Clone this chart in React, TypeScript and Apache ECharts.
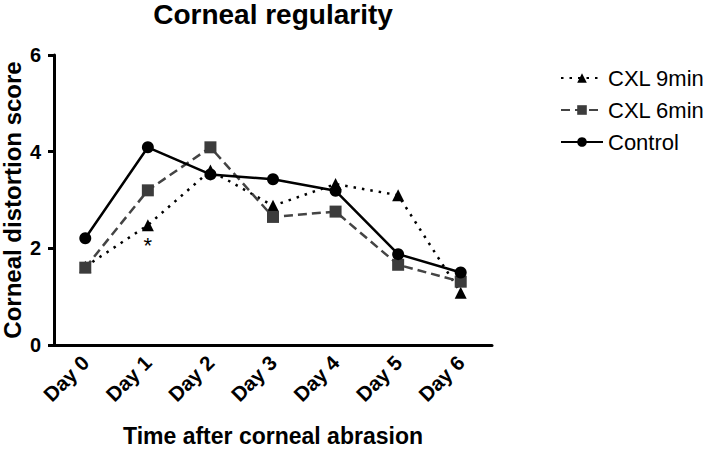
import React, { useEffect, useRef } from "react";
import * as echarts from "echarts";

const days = ["Day 0", "Day 1", "Day 2", "Day 3", "Day 4", "Day 5", "Day 6"];
const yTicks = [0, 2, 4, 6];
const cxl9 = [1.62, 2.48, 3.61, 2.88, 3.33, 3.1, 1.08];
const cxl6 = [1.6, 3.2, 4.09, 2.65, 2.76, 1.66, 1.31];
const control = [2.21, 4.09, 3.53, 3.43, 3.19, 1.88, 1.5];
const significance = [{ day: "Day 1", value: 2.06, mark: "*" }];

const FONT = "Liberation Sans, Arial, Helvetica, sans-serif";

export default function App() {
  const ref = useRef<HTMLDivElement>(null);
  useEffect(() => {
    if (!ref.current) return;
    const chart = echarts.init(ref.current, null, { renderer: "svg" });
    chart.setOption({
      animation: false,
      backgroundColor: "#ffffff",
      title: {
        text: "Corneal regularity",
        left: 273,
        textAlign: "center",
        top: 0,
        padding: 0,
        textStyle: { fontFamily: FONT, fontWeight: "bold", fontSize: 28, lineHeight: 28, color: "#000" },
      },
      legend: {
        orient: "vertical",
        left: 555,
        top: 62,
        itemGap: 10,
        itemWidth: 42,
        itemHeight: 12,
        textStyle: { fontFamily: FONT, fontSize: 22, color: "#000" },
        data: ["CXL 9min", "CXL 6min", "Control"],
      },
      grid: { left: 54, top: 55, width: 438, height: 290, outerBoundsMode: "none", containLabel: false },
      xAxis: {
        type: "category",
        data: days,
        boundaryGap: true,
        name: "Time after corneal abrasion",
        nameLocation: "middle",
        nameGap: 79,
        nameMoveOverlap: false,
        nameTextStyle: { fontFamily: FONT, fontWeight: "bold", fontSize: 23, lineHeight: 23, color: "#000" },
        axisLine: { lineStyle: { color: "#000", width: 3 } },
        axisTick: { alignWithLabel: true, length: 6, lineStyle: { width: 3, color: "#000" } },
        axisLabel: {
          rotate: 45,
          fontFamily: FONT,
          fontWeight: "bold",
          fontSize: 20.5,
          color: "#000",
          margin: 14,
        },
        splitLine: { show: false },
      },
      yAxis: {
        type: "value",
        min: yTicks[0],
        max: yTicks[yTicks.length - 1],
        interval: 2,
        name: "Corneal distortion score",
        nameLocation: "middle",
        nameGap: 32,
        nameMoveOverlap: false,
        nameTextStyle: { fontFamily: FONT, fontWeight: "bold", fontSize: 24, lineHeight: 20, color: "#000" },
        axisLine: { show: true, lineStyle: { color: "#000", width: 3 } },
        axisTick: { show: true, length: 6, lineStyle: { width: 3, color: "#000" } },
        axisLabel: { fontFamily: FONT, fontWeight: "bold", fontSize: 20, color: "#000", margin: 13 },
        splitLine: { show: false },
      },
      series: [
        {
          name: "CXL 9min",
          type: "line",
          data: cxl9,
          symbol: "triangle",
          symbolSize: 12,
          itemStyle: { color: "#000" },
          lineStyle: { color: "#000", width: 2.5, type: [2.5, 6] },
          z: 2,
          markPoint: {
            symbol: "circle",
            symbolSize: 0,
            data: significance.map((s) => ({ coord: [s.day, s.value], value: s.mark })),
            label: {
              show: true,
              formatter: "{c}",
              position: "inside",
              fontFamily: FONT,
              fontSize: 22,
              color: "#000",
            },
          },
        },
        {
          name: "CXL 6min",
          type: "line",
          data: cxl6,
          symbol: "rect",
          symbolSize: 12,
          itemStyle: { color: "#3c3c3c" },
          lineStyle: { color: "#444", width: 2.5, type: [9, 5] },
          z: 3,
        },
        {
          name: "Control",
          type: "line",
          data: control,
          symbol: "circle",
          symbolSize: 12,
          itemStyle: { color: "#000" },
          lineStyle: { color: "#000", width: 2.5 },
          z: 4,
        },
      ],
    });
    return () => chart.dispose();
  }, []);
  return (
    <div
      ref={ref}
      style={{ position: "absolute", left: 0, top: 0, width: 709, height: 449 }}
    />
  );
}
